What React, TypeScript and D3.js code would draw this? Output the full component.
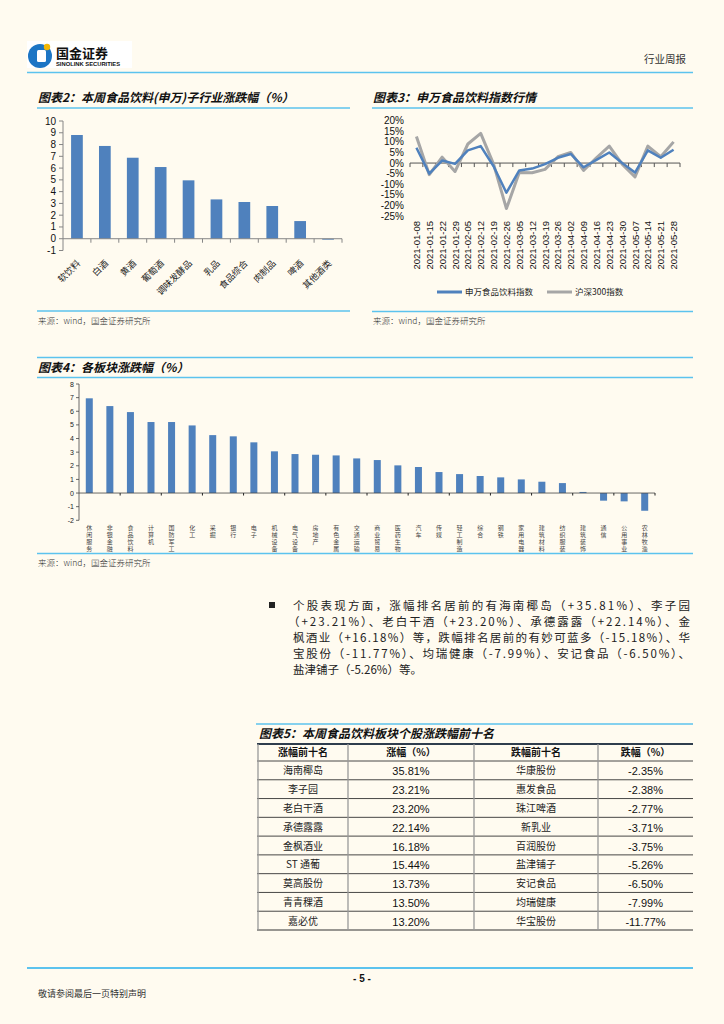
import React from 'react';
import * as d3 from 'd3';

// ---------- DATA ----------
const ch2Categories = ['软饮料', '白酒', '黄酒', '葡萄酒', '调味发酵品', '乳品', '食品综合', '肉制品', '啤酒', '其他酒类'];
const ch2Values = [8.81, 7.88, 6.88, 6.09, 4.96, 3.34, 3.12, 2.78, 1.5, -0.08];
const ch2Ticks = [-1, 0, 1, 2, 3, 4, 5, 6, 7, 8, 9, 10];

const ch3Dates = ['2021-01-08', '2021-01-15', '2021-01-22', '2021-01-29', '2021-02-05', '2021-02-12', '2021-02-19', '2021-02-26', '2021-03-05', '2021-03-12', '2021-03-19', '2021-03-26', '2021-04-02', '2021-04-09', '2021-04-16', '2021-04-23', '2021-04-30', '2021-05-07', '2021-05-14', '2021-05-21', '2021-05-28'];
const ch3SW = [7.2, -5.0, 1.2, -0.4, 6.0, 8.0, -1.5, -14.0, -3.5, -2.6, -0.5, 2.5, 4.3, -2.0, 1.5, 5.0, 0.0, -4.5, 6.0, 2.5, 6.3];
const ch3HS300 = [12.5, -5.5, 2.8, -4.0, 9.0, 14.0, -0.5, -21.5, -4.5, -4.6, -3.0, 3.0, 5.0, -3.5, 2.5, 8.0, -0.5, -6.5, 8.0, 3.0, 10.0];
const ch3Ticks = [20, 15, 10, 5, 0, -5, -10, -15, -20, -25];
const ch3Legend = ['申万食品饮料指数', '沪深300指数'];

const ch4Categories = ['休闲服务', '非银金融', '食品饮料', '计算机', '国防军工', '化工', '采掘', '银行', '电子', '机械设备', '电气设备', '房地产', '有色金属', '交通运输', '商业贸易', '医药生物', '汽车', '传媒', '轻工制造', '综合', '钢铁', '家用电器', '建筑材料', '纺织服装', '建筑装饰', '通信', '公用事业', '农林牧渔'];
const ch4Values = [6.95, 6.38, 5.94, 5.21, 5.21, 4.96, 4.25, 4.16, 3.72, 3.06, 2.86, 2.81, 2.76, 2.54, 2.42, 2.03, 1.91, 1.54, 1.39, 1.25, 1.15, 1.0, 0.83, 0.73, 0.08, -0.56, -0.61, -1.3];
const ch4Ticks = [8, 7, 6, 5, 4, 3, 2, 1, 0, -1, -2];

const paraLines = [
  '个股表现方面，涨幅排名居前的有海南椰岛（+35.81%）、李子园',
  '（+23.21%）、老白干酒（+23.20%）、承德露露（+22.14%）、金',
  '枫酒业（+16.18%）等，跌幅排名居前的有妙可蓝多（-15.18%）、华',
  '宝股份（-11.77%）、均瑞健康（-7.99%）、安记食品（-6.50%）、',
  '盐津铺子（-5.26%）等。',
];

const tblHeaders = ['涨幅前十名', '涨幅（%）', '跌幅前十名', '跌幅（%）'];
const gainNames = ['海南椰岛', '李子园', '老白干酒', '承德露露', '金枫酒业', 'ST 通葡', '莫高股份', '青青稞酒', '嘉必优'];
const gainValues = ['35.81%', '23.21%', '23.20%', '22.14%', '16.18%', '15.44%', '13.73%', '13.50%', '13.20%'];
const loseNames = ['华康股份', '惠发食品', '珠江啤酒', '新乳业', '百润股份', '盐津铺子', '安记食品', '均瑞健康', '华宝股份'];
const loseValues = ['-2.35%', '-2.38%', '-2.77%', '-3.71%', '-3.75%', '-5.26%', '-6.50%', '-7.99%', '-11.77%'];

// ---------- STYLE ----------
const BG = '#fffbf0';
const BLUE = '#4f81bd';
const GRAY = '#a6a6a6';
const RULE = '#5cc3ee';
const AXIS = '#868686';
const CJK = '"Noto Sans CJK SC", sans-serif';
const ARIAL = '"Liberation Sans", Arial, sans-serif';

function Title({ x, y, text }: { x: number; y: number; text: string }) {
  return (
    <text x={x} y={y} fontFamily={CJK} fontSize={12} fontWeight={700} fontStyle="italic" fill="#111">
      {text}
    </text>
  );
}

function Source({ x, y }: { x: number; y: number }) {
  return (
    <text x={x} y={y} fontFamily={CJK} fontSize={8.5} fill="#333" fontWeight={300}>
      来源：wind，国金证券研究所
    </text>
  );
}

function Chart2() {
  const x = d3.scaleBand<string>().domain(ch2Categories).range([63, 342]);
  const y = d3.scaleLinear().domain([-1, 10]).range([250.5, 121]);
  const bw = x.step() * 0.42;
  return (
    <g>
      <Title x={38} y={102} text="图表2：本周食品饮料(申万)子行业涨跌幅（%）" />
      <line x1={37} x2={350} y1={108} y2={108} stroke={RULE} strokeWidth={1.5} />
      {ch2Categories.map((c, i) => {
        const v = ch2Values[i];
        const cx = x(c)! + x.step() / 2;
        return <rect key={c} x={cx - bw / 2} y={y(Math.max(0, v))} width={bw} height={Math.abs(y(v) - y(0))} fill={BLUE} />;
      })}
      <line x1={63} x2={63} y1={y(10)} y2={y(-1)} stroke={AXIS} />
      {ch2Ticks.map((t) => (
        <g key={t}>
          <line x1={59} x2={63} y1={y(t)} y2={y(t)} stroke={AXIS} />
          <text x={56} y={y(t) + 3.5} textAnchor="end" fontFamily={ARIAL} fontSize={10} fill="#111">{t}</text>
        </g>
      ))}
      <line x1={63} x2={342} y1={y(0)} y2={y(0)} stroke={AXIS} />
      {ch2Categories.map((c) => (
        <line key={'t' + c} x1={x(c)! + x.step()} x2={x(c)! + x.step()} y1={y(0)} y2={y(0) + 4} stroke={AXIS} />
      ))}
      {ch2Categories.map((c) => {
        const cx = x(c)! + x.step() / 2;
        return (
          <text key={'l' + c} transform={`translate(${cx + 4},${264}) rotate(-45)`} textAnchor="end" fontFamily={CJK} fontSize={9} fill="#222">
            {c}
          </text>
        );
      })}
      <line x1={37} x2={350} y1={311} y2={311} stroke={RULE} strokeWidth={1.5} />
      <Source x={38} y={324} />
    </g>
  );
}

function Chart3() {
  const x = d3.scaleBand<string>().domain(ch3Dates).range([410, 680]);
  const y = d3.scaleLinear().domain([-25, 20]).range([216, 120.7]);
  const cx = (d: string) => x(d)! + x.step() / 2;
  const line = d3.line<number>().x((_, i) => cx(ch3Dates[i])).y((v) => y(v));
  return (
    <g>
      <Title x={373} y={102} text="图表3：申万食品饮料指数行情" />
      <line x1={372} x2={693} y1={108} y2={108} stroke={RULE} strokeWidth={1.5} />
      {ch3Ticks.map((t) => (
        <text key={t} x={404} y={y(t) + 3.5} textAnchor="end" fontFamily={ARIAL} fontSize={10} fill="#111">{t}%</text>
      ))}
      <line x1={410} x2={680} y1={y(0)} y2={y(0)} stroke="#555" />
      {[...ch3Dates, ''].map((d, i) => (
        <line key={'t' + i} x1={410 + i * x.step()} x2={410 + i * x.step()} y1={y(0)} y2={y(0) + 4} stroke="#555" />
      ))}
      <path d={line(ch3HS300)!} fill="none" stroke={GRAY} strokeWidth={3} strokeLinejoin="round" />
      <path d={line(ch3SW)!} fill="none" stroke={BLUE} strokeWidth={2.5} strokeLinejoin="round" />
      {ch3Dates.map((d) => (
        <text key={'l' + d} transform={`translate(${cx(d) + 3.5},${221}) rotate(-90)`} textAnchor="end" fontFamily={ARIAL} fontSize={9.5} fill="#111">
          {d}
        </text>
      ))}
      <line x1={437} x2={462} y1={292} y2={292} stroke={BLUE} strokeWidth={3} />
      <text x={465} y={295} fontFamily={CJK} fontSize={8.5} fill="#222">{ch3Legend[0]}</text>
      <line x1={547} x2={572} y1={292} y2={292} stroke={GRAY} strokeWidth={3} />
      <text x={575} y={295} fontFamily={CJK} fontSize={8.5} fill="#222">{ch3Legend[1]}</text>
      <line x1={372} x2={693} y1={311.5} y2={311.5} stroke={RULE} strokeWidth={1.5} />
      <Source x={373} y={324} />
    </g>
  );
}

function Chart4() {
  const x = d3.scaleBand<string>().domain(ch4Categories).range([79, 655]);
  const y = d3.scaleLinear().domain([-2, 8]).range([520.3, 384]);
  const bw = 7;
  return (
    <g>
      <line x1={37} x2={693} y1={357.5} y2={357.5} stroke={RULE} strokeWidth={1.5} />
      <Title x={38} y={372} text="图表4：各板块涨跌幅（%）" />
      <line x1={37} x2={693} y1={377.5} y2={377.5} stroke={RULE} strokeWidth={1.5} />
      {ch4Categories.map((c, i) => {
        const v = ch4Values[i];
        const cx = x(c)! + x.step() / 2;
        return <rect key={c} x={cx - bw / 2} y={y(Math.max(0, v))} width={bw} height={Math.abs(y(v) - y(0))} fill={BLUE} />;
      })}
      <line x1={79} x2={79} y1={y(8)} y2={y(-2)} stroke="#444" strokeWidth={0.8} />
      {ch4Ticks.map((t) => (
        <g key={t}>
          <line x1={76} x2={79} y1={y(t)} y2={y(t)} stroke="#444" strokeWidth={0.8} />
          <text x={74} y={y(t) + 2.5} textAnchor="end" fontFamily={ARIAL} fontSize={7} fill="#222">{t}</text>
        </g>
      ))}
      <line x1={79} x2={655} y1={y(0)} y2={y(0)} stroke="#444" strokeWidth={0.8} />
      {ch4Categories.map((c, i) =>
        i % 2 === 1 ? <line key={'t' + c} x1={x(c)! + x.step()} x2={x(c)! + x.step()} y1={y(0)} y2={y(0) + 2.5} stroke="#222" /> : null
      )}
      {ch4Categories.map((c) => {
        const cx = x(c)! + x.step() / 2;
        return (
          <g key={'l' + c}>
            {Array.from(c).map((ch, k) => (
              <text key={k} x={cx} y={530 + k * 7} textAnchor="middle" fontFamily={CJK} fontSize={6} fill="#444">
                {ch}
              </text>
            ))}
          </g>
        );
      })}
      <line x1={37} x2={693} y1={553.5} y2={553.5} stroke={RULE} strokeWidth={1.5} />
      <Source x={38} y={566} />
    </g>
  );
}

function Paragraph() {
  const y0 = 610;
  const lh = 16;
  return (
    <g>
      <rect x={269} y={602} width={6} height={6} fill="#222" />
      {paraLines.map((l, i) => {
        const startX = i === 1 ? 288 : 293;
        const justify = i < 4;
        return (
          <text
            key={i}
            x={startX}
            y={y0 + i * lh}
            fontFamily={CJK}
            fontSize={11.5}
            fill="#222"
            {...(justify ? { textLength: 690 - startX, lengthAdjust: 'spacing' } : {})}
          >
            {l}
          </text>
        );
      })}
    </g>
  );
}

function Table() {
  const cols = [258, 348, 474, 598, 693];
  const headTop = 744;
  const headBot = 761;
  const rowY = d3.scaleLinear().domain([0, 9]).range([headBot, 930]);
  const centers = cols.slice(0, 4).map((c, i) => (c + cols[i + 1]) / 2);
  return (
    <g>
      <line x1={256} x2={693} y1={724} y2={724} stroke={RULE} strokeWidth={1.5} />
      <Title x={259} y={738} text="图表5：本周食品饮料板块个股涨跌幅前十名" />
      <line x1={257} x2={693} y1={headTop} y2={headTop} stroke="#2f3d4d" strokeWidth={1.8} />
      {d3.range(10).map((r) => (
        <line key={r} x1={257} x2={693} y1={rowY(r)} y2={rowY(r)} stroke="#333" strokeWidth={r === 9 ? 1.2 : 0.9} />
      ))}
      {cols.slice(0, 4).map((c) => (
        <line key={c} x1={c} x2={c} y1={headTop} y2={rowY(9)} stroke="#999" strokeWidth={1.3} />
      ))}
      {tblHeaders.map((h, i) => (
        <text key={h} x={centers[i]} y={(headTop + headBot) / 2 + 3.8} textAnchor="middle" fontFamily={CJK} fontSize={10} fontWeight={700} fill="#111">
          {h}
        </text>
      ))}
      {gainNames.map((n, r) => {
        const cy = (rowY(r) + rowY(r + 1)) / 2 + 4;
        return (
          <g key={r}>
            <text x={centers[0]} y={cy} textAnchor="middle" fontFamily={CJK} fontSize={10} fill="#222">{n}</text>
            <text x={centers[1]} y={cy + 1} textAnchor="middle" fontFamily={ARIAL} fontSize={11} fill="#111">{gainValues[r]}</text>
            <text x={centers[2]} y={cy} textAnchor="middle" fontFamily={CJK} fontSize={10} fill="#222">{loseNames[r]}</text>
            <text x={centers[3]} y={cy + 1} textAnchor="middle" fontFamily={ARIAL} fontSize={11} fill="#111">{loseValues[r]}</text>
          </g>
        );
      })}
    </g>
  );
}

function Header() {
  return (
    <g>
      <rect x={27} y={41} width={105} height={27} fill="#fff" />
      <circle cx={40} cy={56} r={12} fill="#1c75c4" />
      <rect x={37} y={50} width={9} height={12} rx={1.5} fill="#fff" />
      <circle cx={47} cy={47} r={3.2} fill="#f2b705" />
      <text x={56} y={58} fontFamily={CJK} fontSize={13} fontWeight={700} fill="#111">国金证券</text>
      <text x={56} y={66} fontFamily={ARIAL} fontSize={5.8} fontWeight={700} fill="#111">SINOLINK SECURITIES</text>
      <text x={686} y={63} textAnchor="end" fontFamily={CJK} fontSize={10.5} fill="#333">行业周报</text>
      <line x1={27} x2={693} y1={72.5} y2={72.5} stroke={RULE} strokeWidth={1.5} />
    </g>
  );
}

function Footer() {
  return (
    <g>
      <line x1={27} x2={693} y1={968} y2={968} stroke={RULE} strokeWidth={2} />
      <text x={362} y={982} textAnchor="middle" fontFamily={ARIAL} fontSize={10} fontWeight={700} fill="#111">- 5 -</text>
      <text x={38} y={997} fontFamily={CJK} fontSize={9} fill="#333">敬请参阅最后一页特别声明</text>
    </g>
  );
}

export default function App() {
  return (
    <div style={{ position: 'absolute', left: 0, top: 0 }}>
      <svg width={724} height={1024} viewBox="0 0 724 1024" style={{ display: 'block' }}>
        <rect x={0} y={0} width={724} height={1024} fill={BG} />
        <Header />
        <Chart2 />
        <Chart3 />
        <Chart4 />
        <Paragraph />
        <Table />
        <Footer />
      </svg>
    </div>
  );
}
